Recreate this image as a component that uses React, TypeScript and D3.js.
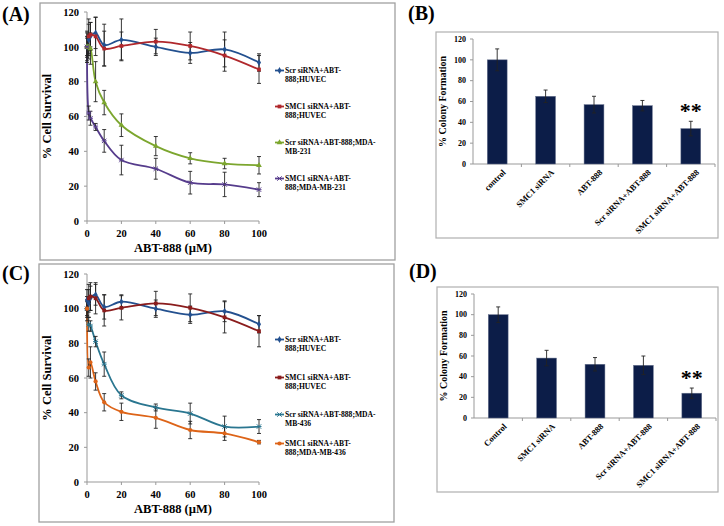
import React from "react";
import * as d3 from "d3";

const doses = [0, 1, 2, 5, 10, 20, 40, 60, 80, 100];
const xTicks = [0, 20, 40, 60, 80, 100];
const yTicks = [0, 20, 40, 60, 80, 100, 120];

// Panel A
const scrHuvecA = [100, 104, 106, 108, 101, 104, 100, 96.5, 98.5, 91];
const scrHuvecAErr = [8, 9, 8, 9, 12, 12, 5, 6, 10, 5];
const smcHuvecA = [100, 106, 107, 106, 99, 100.5, 103, 100.5, 95, 87];
const smcHuvecAErr = [9, 10, 7, 11, 10, 8, 7, 8, 9, 8];
const scr231 = [100, 100, 99, 80, 68, 55, 43, 36, 33, 32];
const scr231Err = [6, 7, 9, 11.5, 7, 6.5, 5.5, 3.2, 3, 5];
const smc231 = [100, 62, 59, 54, 46, 35, 30, 22, 21, 18];
const smc231Err = [5, 4, 4, 2, 6.5, 8.5, 6, 6.5, 7, 4];

// Panel C
const scrHuvecC = [105, 103, 106, 108, 101, 104, 100, 96.5, 98.5, 91];
const scrHuvecCErr = [6, 8, 7, 6, 7, 4, 5, 5, 6, 5];
const smcHuvecC = [100, 106, 107, 106, 99, 100.5, 103, 100.5, 95, 87];
const smcHuvecCErr = [7, 8, 8, 9, 9, 7, 7, 8, 9, 9];
const scr436 = [100, 91, 90, 81, 68, 50, 43, 39.5, 32, 32];
const scr436Err = [5, 4, 3, 3, 7, 2, 2, 6, 6, 4];
const smc436 = [100, 66, 69, 58, 46, 40.5, 37, 30, 28, 23];
const smc436Err = [4, 5, 9, 5, 5, 5, 6, 5, 4, 1];

const legendA = [
  ["Scr siRNA+ABT-", "888;HUVEC"],
  ["SMC1 siRNA+ABT-", "888;HUVEC"],
  ["Scr siRNA+ABT-888;MDA-", "MB-231"],
  ["SMC1 siRNA+ABT-", "888;MDA-MB-231"],
];
const legendC = [
  ["Scr siRNA+ABT-", "888;HUVEC"],
  ["SMC1 siRNA+ABT-", "888;HUVEC"],
  ["Scr siRNA+ABT-888;MDA-", "MB-436"],
  ["SMC1 siRNA+ABT-", "888;MDA-MB-436"],
];

// Bar panels
const barCatsB = ["control", "SMC1 siRNA", "ABT-888", "Scr siRNA+ABT-888", "SMC1 siRNA+ABT-888"];
const barValsB = [100, 65, 57, 56, 34];
const barErrB = [10.5, 6, 8, 5, 7];
const barCatsD = ["Control", "SMC1 siRNA", "ABT-888", "Scr siRNA+ABT-888", "SMC1 siRNA+ABT-888"];
const barValsD = [100, 58, 52, 51, 24];
const barErrD = [7.5, 7.5, 6.5, 9, 5];

const FONT = "'Liberation Serif', 'Times New Roman', serif";
const AXIS = "#999";

type Series = { vals: number[]; err: number[]; color: string; marker: string };

function Marker({ type, x, y, color }: { type: string; x: number; y: number; color: string }) {
  if (type === "diamond") {
    return <path d={d3.symbol(d3.symbolDiamond, 14)()!} transform={`translate(${x},${y})`} fill={color} />;
  }
  if (type === "square") {
    return <path d={d3.symbol(d3.symbolSquare, 14)()!} transform={`translate(${x},${y})`} fill={color} />;
  }
  if (type === "triangle") {
    return <path d={d3.symbol(d3.symbolTriangle, 14)()!} transform={`translate(${x},${y})`} fill={color} />;
  }
  if (type === "circle") {
    return <path d={d3.symbol(d3.symbolCircle, 14)()!} transform={`translate(${x},${y})`} fill={color} />;
  }
  return (
    <g transform={`translate(${x},${y})`} stroke={color} strokeWidth={1}>
      <line x1={-2.2} y1={-2.2} x2={2.2} y2={2.2} />
      <line x1={-2.2} y1={2.2} x2={2.2} y2={-2.2} />
      <line x1={-2.5} y1={0} x2={2.5} y2={0} />
    </g>
  );
}

function LinePanel({
  frame, plot, label, labelY, series, legend, legendYs,
}: {
  frame: { x: number; y: number; w: number; h: number };
  plot: { x0: number; x1: number; y0: number; y1: number };
  label: string; labelY: number;
  series: Series[]; legend: string[][]; legendYs: number[];
}) {
  const x = d3.scaleLinear().domain([0, 100]).range([plot.x0, plot.x1]);
  const y = d3.scaleLinear().domain([0, 120]).range([plot.y0, plot.y1]);
  const line = d3.line<[number, number]>()
    .x((d) => x(d[0]))
    .y((d) => y(d[1]))
    .curve(d3.curveCatmullRom.alpha(0.5));
  return (
    <g>
      <rect x={frame.x} y={frame.y} width={frame.w} height={frame.h} fill="white" stroke="#a0a0a0" strokeWidth={1.3} />
      <text x={2} y={labelY} fontFamily={FONT} fontWeight="bold" fontSize={20}>{label}</text>
      <line x1={plot.x0} x2={plot.x0} y1={plot.y1} y2={plot.y0} stroke={AXIS} />
      <line x1={plot.x0} x2={plot.x1} y1={plot.y0} y2={plot.y0} stroke={AXIS} />
      {yTicks.map((t) => (
        <g key={t}>
          <line x1={plot.x0 - 3} x2={plot.x0} y1={y(t)} y2={y(t)} stroke={AXIS} />
          <text x={plot.x0 - 8} y={y(t)} dy="0.35em" textAnchor="end" fontFamily={FONT} fontWeight="bold" fontSize={10.5}>{t}</text>
        </g>
      ))}
      {xTicks.map((t) => (
        <g key={t}>
          <line x1={x(t)} x2={x(t)} y1={plot.y0} y2={plot.y0 + 3} stroke={AXIS} />
          <text x={x(t)} y={plot.y0 + 12} dy="0.35em" textAnchor="middle" fontFamily={FONT} fontWeight="bold" fontSize={10.5}>{t}</text>
        </g>
      ))}
      <text transform={`translate(${plot.x0 - 36},${(plot.y0 + plot.y1) / 2}) rotate(-90)`} textAnchor="middle" fontFamily={FONT} fontWeight="bold" fontSize={12.5}>% Cell Survival</text>
      <text x={(plot.x0 + plot.x1) / 2} y={plot.y0 + 31} textAnchor="middle" fontFamily={FONT} fontWeight="bold" fontSize={12.5}>ABT-888 (µM)</text>
      {series.map((s, si) => (
        <g key={si}>
          <path d={line(doses.map((d, i) => [d, s.vals[i]] as [number, number]))!} fill="none" stroke={s.color} strokeWidth={1.8} />
        </g>
      ))}
      {series.map((s, si) => (
        <g key={"e" + si} stroke="#222" strokeWidth={0.9}>
          {doses.map((d, i) => (
            <g key={i}>
              <line x1={x(d)} x2={x(d)} y1={y(s.vals[i] - s.err[i])} y2={y(s.vals[i] + s.err[i])} />
              <line x1={x(d) - 2} x2={x(d) + 2} y1={y(s.vals[i] - s.err[i])} y2={y(s.vals[i] - s.err[i])} />
              <line x1={x(d) - 2} x2={x(d) + 2} y1={y(s.vals[i] + s.err[i])} y2={y(s.vals[i] + s.err[i])} />
            </g>
          ))}
        </g>
      ))}
      {series.map((s, si) => (
        <g key={"m" + si}>
          {doses.map((d, i) => (
            <Marker key={i} type={s.marker} x={x(d)} y={y(s.vals[i])} color={s.color} />
          ))}
        </g>
      ))}
      {legend.map((lines, i) => (
        <g key={"l" + i}>
          <line x1={275} x2={284} y1={legendYs[i] - 2.5} y2={legendYs[i] - 2.5} stroke={series[i].color} strokeWidth={1.8} />
          <Marker type={series[i].marker} x={279.5} y={legendYs[i] - 2.5} color={series[i].color} />
          <text x={285} y={legendYs[i]} fontFamily={FONT} fontWeight="bold" fontSize={7.6}>{lines[0]}</text>
          <text x={285} y={legendYs[i] + 9} fontFamily={FONT} fontWeight="bold" fontSize={7.6}>{lines[1]}</text>
        </g>
      ))}
    </g>
  );
}

function BarPanel({
  frame, plot, label, labelY, cats, vals, err,
}: {
  frame: { x: number; y: number; w: number; h: number };
  plot: { x0: number; x1: number; y0: number; y1: number };
  label: string; labelY: number; cats: string[]; vals: number[]; err: number[];
}) {
  const x = d3.scaleBand().domain(cats).range([plot.x0, plot.x1]).paddingInner(0.59).paddingOuter(0.295);
  const y = d3.scaleLinear().domain([0, 120]).range([plot.y0, plot.y1]);
  const step = x.step();
  const last = cats[cats.length - 1];
  return (
    <g>
      <rect x={frame.x} y={frame.y} width={frame.w} height={frame.h} fill="white" stroke="#b0b0b0" strokeWidth={1.2} />
      <text x={frame.x - 28} y={labelY} fontFamily={FONT} fontWeight="bold" fontSize={20}>{label}</text>
      <line x1={plot.x0} x2={plot.x0} y1={plot.y1} y2={plot.y0} stroke={AXIS} />
      <line x1={plot.x0} x2={plot.x1} y1={plot.y0} y2={plot.y0} stroke={AXIS} />
      {yTicks.map((t) => (
        <g key={t}>
          <line x1={plot.x0 - 3} x2={plot.x0} y1={y(t)} y2={y(t)} stroke={AXIS} />
          <text x={plot.x0 - 7} y={y(t)} dy="0.35em" textAnchor="end" fontFamily={FONT} fontWeight="bold" fontSize={8}>{t}</text>
        </g>
      ))}
      {cats.map((c, i) => (
        <line key={"t" + i} x1={plot.x0 + step * (i + 1)} x2={plot.x0 + step * (i + 1)} y1={plot.y0} y2={plot.y0 + 3} stroke={AXIS} />
      ))}
      <text transform={`translate(${plot.x0 - 27},${(plot.y0 + plot.y1) / 2}) rotate(-90)`} textAnchor="middle" fontFamily={FONT} fontWeight="bold" fontSize={10}>% Colony Formation</text>
      {cats.map((c, i) => {
        const cx = x(c)! + x.bandwidth() / 2;
        return (
          <g key={c}>
            <rect x={x(c)!} y={y(vals[i])} width={x.bandwidth()} height={y(0) - y(vals[i])} fill="#0c1d48" stroke="#6a7590" strokeWidth={0.5} />
            <g stroke="#222" strokeWidth={0.9}>
              <line x1={cx} x2={cx} y1={y(vals[i] - err[i])} y2={y(vals[i] + err[i])} />
              <line x1={cx - 2} x2={cx + 2} y1={y(vals[i] + err[i])} y2={y(vals[i] + err[i])} />
              <line x1={cx - 2} x2={cx + 2} y1={y(vals[i] - err[i])} y2={y(vals[i] - err[i])} />
            </g>
            <text transform={`translate(${cx + 9},${plot.y0 + 9}) rotate(-45)`} textAnchor="end" fontFamily={FONT} fontWeight="bold" fontSize={8.5}>{c}</text>
          </g>
        );
      })}
      <text x={x(last)! + x.bandwidth() / 2} y={y(vals[vals.length - 1] + err[err.length - 1]) - 3} textAnchor="middle" fontFamily={FONT} fontWeight="bold" fontSize={22}>**</text>
    </g>
  );
}

export default function App() {
  const seriesA: Series[] = [
    { vals: scrHuvecA, err: scrHuvecAErr, color: "#23508f", marker: "diamond" },
    { vals: smcHuvecA, err: smcHuvecAErr, color: "#b0282c", marker: "square" },
    { vals: scr231, err: scr231Err, color: "#7ca62e", marker: "triangle" },
    { vals: smc231, err: smc231Err, color: "#563c8c", marker: "star" },
  ];
  const seriesC: Series[] = [
    { vals: scrHuvecC, err: scrHuvecCErr, color: "#23508f", marker: "diamond" },
    { vals: smcHuvecC, err: smcHuvecCErr, color: "#8a1c1c", marker: "square" },
    { vals: scr436, err: scr436Err, color: "#2a7690", marker: "star" },
    { vals: smc436, err: smc436Err, color: "#dd6418", marker: "circle" },
  ];
  return (
    <svg width={724} height={526} style={{ position: "absolute", left: 0, top: 0, background: "white" }}>
      <rect x={0} y={0} width={724} height={526} fill="white" />
      <LinePanel
        frame={{ x: 40, y: 3, w: 355, h: 257 }}
        plot={{ x0: 87, x1: 259, y0: 221, y1: 12 }}
        label="(A)" labelY={21}
        series={seriesA} legend={legendA} legendYs={[73, 109, 145, 181]}
      />
      <LinePanel
        frame={{ x: 39, y: 264, w: 355, h: 258 }}
        plot={{ x0: 87, x1: 259, y0: 482, y1: 274 }}
        label="(C)" labelY={280}
        series={seriesC} legend={legendC} legendYs={[342, 380, 417, 446]}
      />
      <BarPanel
        frame={{ x: 436, y: 32, w: 282, h: 206 }}
        plot={{ x0: 473, x1: 715, y0: 164, y1: 39 }}
        label="(B)" labelY={20}
        cats={barCatsB} vals={barValsB} err={barErrB}
      />
      <BarPanel
        frame={{ x: 437, y: 287, w: 281, h: 205 }}
        plot={{ x0: 474, x1: 716, y0: 418, y1: 294 }}
        label="(D)" labelY={278}
        cats={barCatsD} vals={barValsD} err={barErrD}
      />
    </svg>
  );
}
